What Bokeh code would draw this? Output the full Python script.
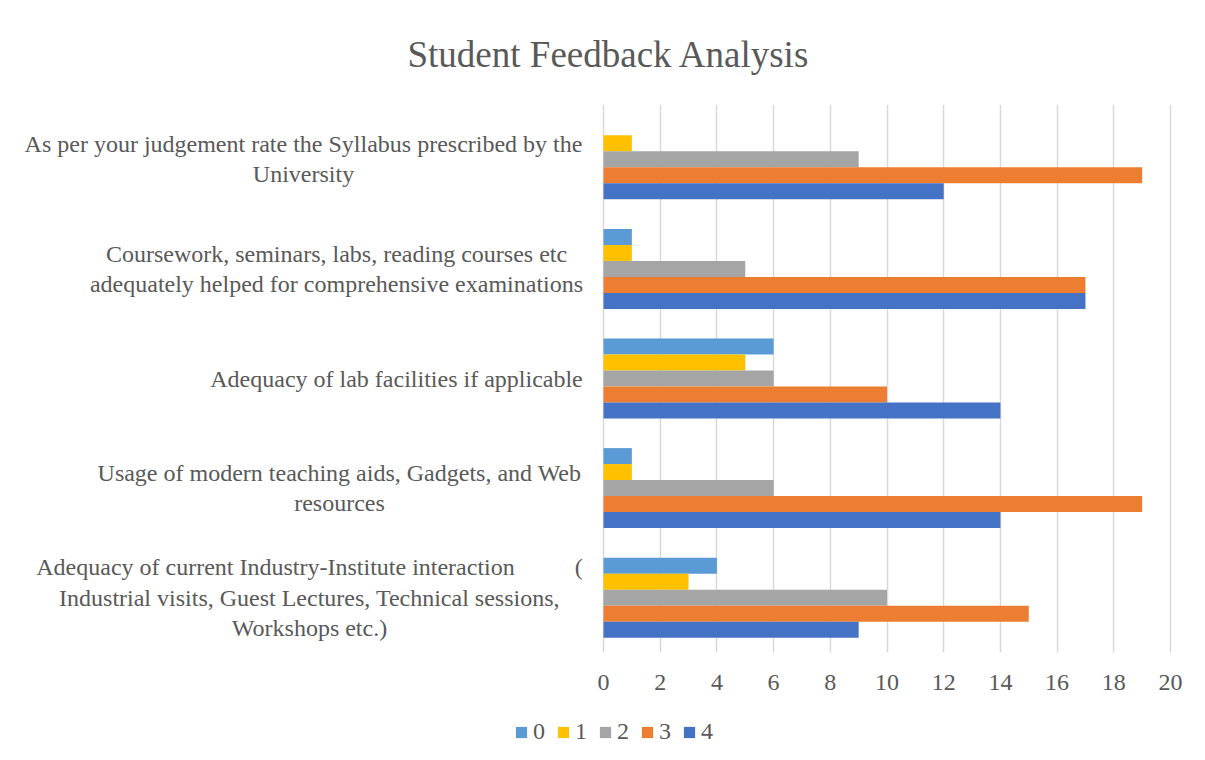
from bokeh.plotting import figure
from bokeh.models import Range1d, Legend, LegendItem, FixedTicker, ColumnDataSource, BoxAnnotation
from bokeh.core.properties import value
from bokeh.embed import file_html
from bokeh.resources import INLINE

# ---- data ----
categories = [
    "Adequacy of current Industry-Institute interaction" + "\u00a0" * 10 + "(\nIndustrial visits, Guest Lectures, Technical sessions,\nWorkshops etc.)",
    "Usage of modern teaching aids, Gadgets, and Web\nresources",
    "Adequacy of lab facilities if applicable",
    "Coursework, seminars, labs, reading courses etc\nadequately helped for comprehensive examinations",
    "As per your judgement rate the Syllabus prescribed by the\nUniversity",
]
series_names = ["0", "1", "2", "3", "4"]
s0 = [4, 1, 6, 1, 0]
s1 = [3, 1, 5, 1, 1]
s2 = [10, 6, 6, 5, 9]
s3 = [15, 19, 10, 17, 19]
s4 = [9, 14, 14, 17, 12]
series_values = [s0, s1, s2, s3, s4]
x_ticks = [0, 2, 4, 6, 8, 10, 12, 14, 16, 18, 20]
colors = ["#5B9BD5", "#FFC000", "#A5A5A5", "#ED7D31", "#4472C4"]
title_text = "Student Feedback Analysis"

# ---- layout constants (pixels) ----
W, H = 1205, 760
AXIS_LEFT_PX, AXIS_RIGHT_PX = 603, 1170
TOP_PX, BOTTOM_PX = 104, 652
label_offsets_px = [-294, -264, -207, -267, -300]   # label centre relative to value 0

FONT = "Liberation Serif"
TXT = "#595959"

ncat = len(categories)
ppu_x = (AXIS_RIGHT_PX - AXIS_LEFT_PX) / (x_ticks[-1] - x_ticks[0])
x_start = x_ticks[0] - AXIS_LEFT_PX / ppu_x
x_end = x_ticks[-1] + (W - AXIS_RIGHT_PX) / ppu_x
ppu_y = (BOTTOM_PX - TOP_PX) / ncat
y_start = -(H - BOTTOM_PX) / ppu_y

p = figure(width=W, height=H, x_range=Range1d(x_start, x_end), y_range=Range1d(y_start, ncat),
           output_backend="svg", toolbar_location=None,
           min_border_left=0, min_border_right=0,
           min_border_top=TOP_PX, min_border_bottom=0)
p.outline_line_color = None
p.background_fill_color = "white"
p.border_fill_color = "white"

# grid (vertical lines), hidden below the category area
p.ygrid.visible = False
p.xgrid.ticker = FixedTicker(ticks=x_ticks)
p.xgrid.grid_line_color = "#D9D9D9"
p.xgrid.grid_line_width = 1.5
p.add_layout(BoxAnnotation(top=0, fill_color="white", fill_alpha=1, line_alpha=0, level="underlay"))

bar_h = 0.146
renderers = []
for k, (name, vals, col) in enumerate(zip(series_names, series_values, colors)):
    ys = [i + 0.5 + (2 - k) * bar_h for i in range(ncat)]
    src = ColumnDataSource(dict(y=ys, right=vals))
    r = p.hbar(y="y", right="right", left=0, height=bar_h, source=src,
               fill_color=col, line_color=None)
    renderers.append(r)

# category labels
lab_src = ColumnDataSource(dict(x=[0] * ncat, y=[i + 0.5 for i in range(ncat)],
                                text=categories, xo=label_offsets_px))
p.text(x="x", y="y", text="text", x_offset="xo", source=lab_src,
       text_align="center", text_baseline="middle",
       text_font=value(FONT), text_font_size="24px", text_color=TXT, text_line_height=1.17)

# axes
p.yaxis.visible = False
xa = p.xaxis[0]
xa.fixed_location = 0
xa.ticker = FixedTicker(ticks=x_ticks)
xa.axis_line_color = None
xa.major_tick_line_color = None
xa.minor_tick_line_color = None
xa.major_tick_out = 0
xa.major_tick_in = 0
xa.major_label_standoff = 22
xa.major_label_text_font = FONT
xa.major_label_text_font_size = "24px"
xa.major_label_text_color = TXT

# title
p.title.text = title_text
p.title.align = "left"
p.title.offset = 407
p.title.text_font = FONT
p.title.text_font_size = "37px"
p.title.text_font_style = "normal"
p.title.text_color = TXT
p.title.text_line_height = 1.0
p.title.standoff = 60

legend = Legend(items=[LegendItem(label=n, renderers=[r]) for n, r in zip(series_names, renderers)],
                orientation="horizontal", location=(514, 15),
                glyph_width=14, glyph_height=14, label_standoff=5, spacing=11, label_width=12,
                padding=0, margin=0, border_line_alpha=0, background_fill_alpha=0,
                label_text_font=FONT, label_text_font_size="24px", label_text_color=TXT)
p.add_layout(legend)

open("out.html", "w").write(file_html(p, INLINE))
